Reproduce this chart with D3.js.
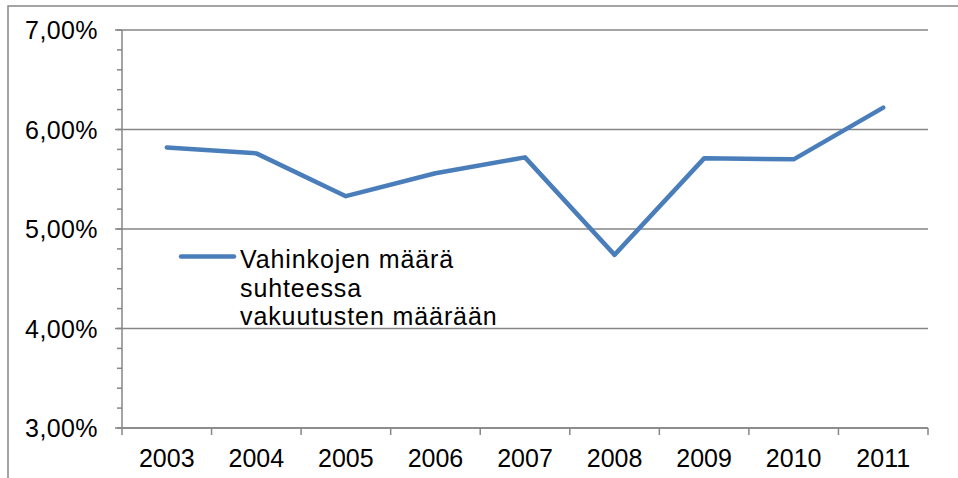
<!DOCTYPE html>
<html>
<head>
<meta charset="utf-8">
<script src="https://cdn.jsdelivr.net/npm/d3@7"></script>
<style>
  body { margin: 0; background: #fff; }
  text { font-family: "Liberation Sans", Arial, sans-serif; fill: #000; }
</style>
</head>
<body>
<div id="chart"></div>
<script>
var years = ["2003", "2004", "2005", "2006", "2007", "2008", "2009", "2010", "2011"];
var ratio = [5.82, 5.76, 5.33, 5.56, 5.72, 4.74, 5.71, 5.70, 6.22];   // % 
var yTicks = [3, 4, 5, 6, 7];
var seriesName = ["Vahinkojen määrä", "suhteessa", "vakuutusten määrään"];

var width = 958;
var height = 478;
var plotL = 122, plotR = 928, plotT = 30, plotB = 428;
var gray = "#868686";
var blue = "#4a7ebb";

var svg = d3.select("#chart").append("svg")
    .attr("width", width)
    .attr("height", height);

// chart area border (only left/top visible)
svg.append("path")
    .attr("d", "M8," + height + " L8,6 L" + width + ",6")
    .attr("fill", "none")
    .attr("stroke", gray)
    .attr("stroke-width", 1.5);

var x = d3.scaleBand().domain(years).range([plotL, plotR]);
var y = d3.scaleLinear().domain([3, 7]).range([plotB, plotT]);

var fmt = function (d) { return d3.format(".2f")(d).replace(".", ",") + "%"; };

// gridlines
svg.append("g")
    .selectAll("line")
    .data(yTicks)
    .enter().append("line")
    .attr("x1", plotL - 7)
    .attr("x2", plotR)
    .attr("y1", function (d) { return y(d); })
    .attr("y2", function (d) { return y(d); })
    .attr("stroke", gray)
    .attr("stroke-width", 1.5);

// minor ticks every 0.2
var minor = d3.range(3, 7.0001, 0.2);
svg.append("g")
    .selectAll("line")
    .data(minor)
    .enter().append("line")
    .attr("x1", plotL - 5)
    .attr("x2", plotL)
    .attr("y1", function (d) { return y(d); })
    .attr("y2", function (d) { return y(d); })
    .attr("stroke", gray)
    .attr("stroke-width", 1.5);

// y axis line
svg.append("line")
    .attr("x1", plotL).attr("x2", plotL)
    .attr("y1", plotT).attr("y2", plotB)
    .attr("stroke", gray)
    .attr("stroke-width", 1.5);

// y labels
svg.append("g")
    .selectAll("text")
    .data(yTicks)
    .enter().append("text")
    .attr("x", 98)
    .attr("y", function (d) { return y(d) + 9; })
    .attr("text-anchor", "end")
    .style("font-size", "25px")
    .style("letter-spacing", "0.4px")
    .text(fmt);

// x axis
svg.append("line")
    .attr("x1", plotL).attr("x2", plotR)
    .attr("y1", plotB).attr("y2", plotB)
    .attr("stroke", gray)
    .attr("stroke-width", 1.5);

var bounds = years.map(function (d) { return x(d); }).concat([plotR]);
svg.append("g")
    .selectAll("line")
    .data(bounds)
    .enter().append("line")
    .attr("x1", function (d) { return d; })
    .attr("x2", function (d) { return d; })
    .attr("y1", plotB)
    .attr("y2", plotB + 7)
    .attr("stroke", gray)
    .attr("stroke-width", 1.5);

svg.append("g")
    .selectAll("text")
    .data(years)
    .enter().append("text")
    .attr("x", function (d) { return x(d) + x.bandwidth() / 2; })
    .attr("y", 467)
    .attr("text-anchor", "middle")
    .style("font-size", "25px")
    .text(function (d) { return d; });

// series line
var line = d3.line()
    .x(function (d, i) { return x(years[i]) + x.bandwidth() / 2; })
    .y(function (d) { return y(d); });

svg.append("path")
    .datum(ratio)
    .attr("d", line)
    .attr("fill", "none")
    .attr("stroke", blue)
    .attr("stroke-width", 4.5)
    .attr("stroke-linejoin", "round")
    .attr("stroke-linecap", "round");

// legend
svg.append("line")
    .attr("x1", 181).attr("x2", 234)
    .attr("y1", 256.5).attr("y2", 256.5)
    .attr("stroke", blue)
    .attr("stroke-width", 4.5)
    .attr("stroke-linecap", "round");

svg.append("g")
    .selectAll("text")
    .data(seriesName)
    .enter().append("text")
    .attr("x", 240)
    .attr("y", function (d, i) { return 268 + i * 28.5; })
    .style("font-size", "25px")
    .style("letter-spacing", "0.9px")
    .text(function (d) { return d; });
</script>
</body>
</html>
